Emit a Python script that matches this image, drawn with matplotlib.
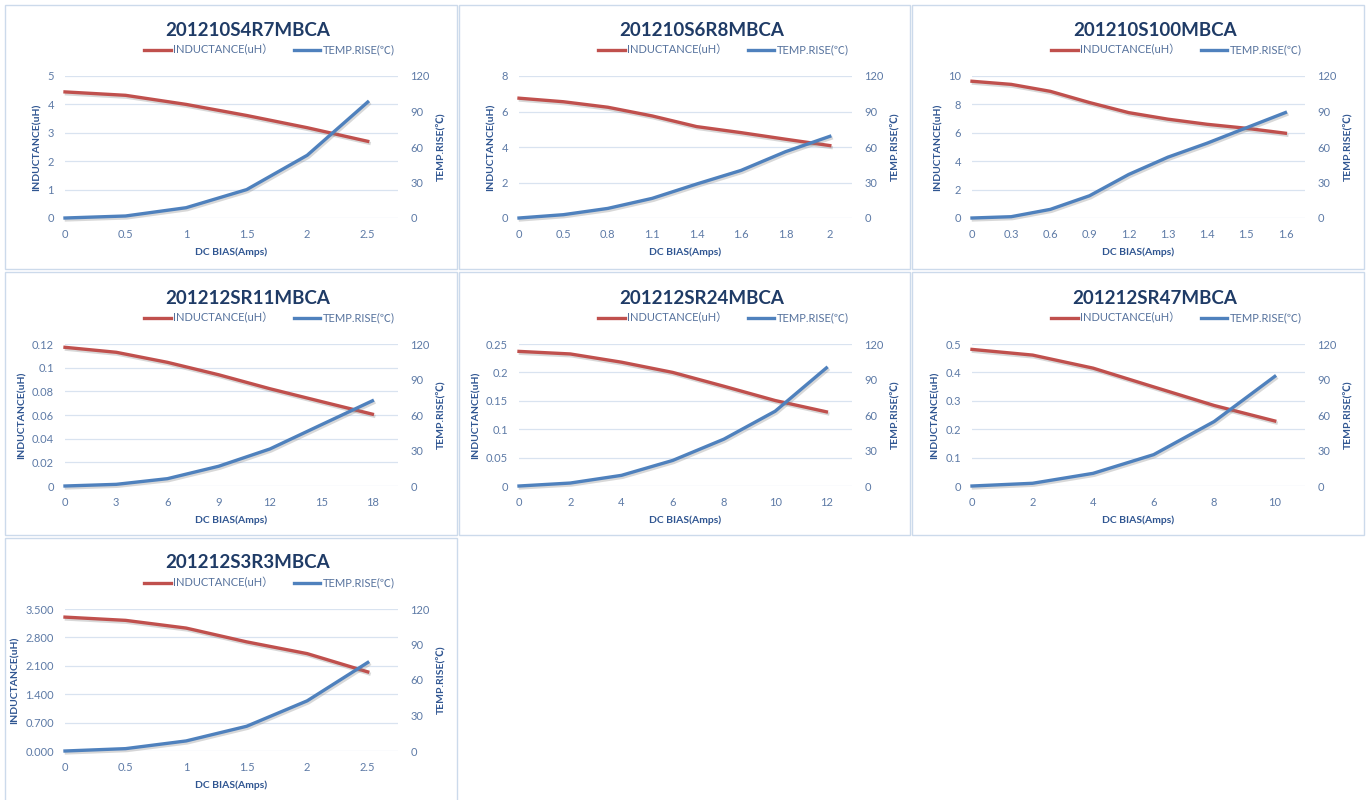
import matplotlib
matplotlib.use('Agg')
import matplotlib.pyplot as plt
import matplotlib.patheffects as pe
from matplotlib.patches import Rectangle
from matplotlib.lines import Line2D
import numpy as np

plt.rcParams['font.family'] = ['Lato', 'Noto Sans CJK SC', 'DejaVu Sans']

# --- data ---
titles = ['201210S4R7MBCA', '201210S6R8MBCA', '201210S100MBCA',
          '201212SR11MBCA', '201212SR24MBCA', '201212SR47MBCA',
          '201212S3R3MBCA']

x_s4r7 = ['0', '0.5', '1', '1.5', '2', '2.5']
ind_s4r7 = [4.44, 4.32, 4.0, 3.61, 3.18, 2.70]
temp_s4r7 = [0, 1.7, 8.7, 24, 53, 98]
yl_s4r7 = ['0', '1', '2', '3', '4', '5']

x_s6r8 = ['0', '0.5', '0.8', '1.1', '1.4', '1.6', '1.8', '2']
ind_s6r8 = [6.75, 6.55, 6.24, 5.75, 5.15, 4.81, 4.44, 4.08]
temp_s6r8 = [0, 2.8, 8.1, 16.6, 28.7, 40.2, 56, 69]
yl_s6r8 = ['0', '2', '4', '6', '8']

x_s100 = ['0', '0.3', '0.6', '0.9', '1.2', '1.3', '1.4', '1.5', '1.6']
ind_s100 = [9.63, 9.41, 8.92, 8.13, 7.42, 6.96, 6.6, 6.32, 5.97]
temp_s100 = [0, 1.1, 7.3, 18.8, 36.8, 51.4, 63.2, 76.2, 89.1]
yl_s100 = ['0', '2', '4', '6', '8', '10']

x_sr11 = ['0', '3', '6', '9', '12', '15', '18']
ind_sr11 = [0.1172, 0.113, 0.1045, 0.094, 0.0822, 0.0714, 0.0607]
temp_sr11 = [0, 1.4, 6.2, 16.7, 31.3, 51.7, 72]
yl_sr11 = ['0', '0.02', '0.04', '0.06', '0.08', '0.1', '0.12']

x_sr24 = ['0', '2', '4', '6', '8', '10', '12']
ind_sr24 = [0.237, 0.2325, 0.218, 0.200, 0.1756, 0.1505, 0.1306]
temp_sr24 = [0, 2.5, 9, 21.6, 39.6, 63.2, 99.8]
yl_sr24 = ['0', '0.05', '0.1', '0.15', '0.2', '0.25']

x_sr47 = ['0', '2', '4', '6', '8', '10']
ind_sr47 = [0.481, 0.461, 0.415, 0.349, 0.2835, 0.229]
temp_sr47 = [0, 2.3, 10.7, 26.5, 54.5, 92.6]
yl_sr47 = ['0', '0.1', '0.2', '0.3', '0.4', '0.5']

x_s3r3 = ['0', '0.5', '1', '1.5', '2', '2.5']
ind_s3r3 = [3.30, 3.22, 3.03, 2.69, 2.40, 1.95]
temp_s3r3 = [0, 2, 8.5, 20.9, 42.4, 74.8]
yl_s3r3 = ['0.000', '0.700', '1.400', '2.100', '2.800', '3.500']

temp_ticks = [0, 30, 60, 90, 120]

panels = [
    (x_s4r7, ind_s4r7, temp_s4r7, yl_s4r7),
    (x_s6r8, ind_s6r8, temp_s6r8, yl_s6r8),
    (x_s100, ind_s100, temp_s100, yl_s100),
    (x_sr11, ind_sr11, temp_sr11, yl_sr11),
    (x_sr24, ind_sr24, temp_sr24, yl_sr24),
    (x_sr47, ind_sr47, temp_sr47, yl_sr47),
    (x_s3r3, ind_s3r3, temp_s3r3, yl_s3r3),
]

# --- styling ---
W, H = 1369, 800
red = '#c0504d'
blue = '#4f81bd'
grid_c = '#d9e3f0'
tick_c = '#5d7aa6'
lab_c = '#2f5591'
title_c = '#1f3b66'
leg_c = '#56729d'
border_c = '#ccdaeb'

plot_left = [65, 519, 972]
plot_top = [76, 344, 609]
pw, ph = 333, 142

borders = [(5, 5, 452, 264), (459, 5, 451, 264), (912, 5, 452, 264),
           (5, 272, 452, 263), (459, 272, 451, 263), (912, 272, 452, 263),
           (5, 538, 452, 280)]

shadow = [pe.SimpleLineShadow(offset=(1.0, -1.4), shadow_color='#808080', alpha=0.3),
          pe.Normal()]

fig = plt.figure(figsize=(W / 100, H / 100), dpi=100)

for bx, by, bw, bh in borders:
    fig.patches.append(Rectangle((bx / W, 1 - (by + bh) / H), bw / W, bh / H,
                                 transform=fig.transFigure, fill=False,
                                 edgecolor=border_c, lw=1.0))

for i, (xc, ind, temp, yl) in enumerate(panels):
    col, row = i % 3, i // 3
    left = plot_left[col]
    top = plot_top[row]
    ax = fig.add_axes([left / W, 1 - (top + ph) / H, pw / W, ph / H])
    n = len(xc)
    pos = np.arange(n)

    ax.plot(pos, ind, color=red, lw=2.4, path_effects=shadow, clip_on=False)
    yt = [float(s) for s in yl]
    ax.set_ylim(0, yt[-1])
    ax.set_yticks(yt)
    ax.set_yticklabels(yl)
    ax.set_xlim(0, n - 0.5)
    ax.set_xticks(pos)
    ax.set_xticklabels(xc)
    ax.grid(axis='y', color=grid_c, lw=0.9)
    ax.set_axisbelow(True)
    for s in ax.spines.values():
        s.set_visible(False)
    ax.tick_params(length=0, labelsize=8, colors=tick_c)
    ax.tick_params(axis='y', pad=8)
    ax.tick_params(axis='x', pad=8)
    ax.set_ylabel('INDUCTANCE(uH)', fontsize=7.5, fontweight='bold', color=lab_c, labelpad=4)
    ax.set_xlabel('DC BIAS(Amps)', fontsize=7.5, fontweight='bold', color=lab_c, labelpad=5)

    ax2 = ax.twinx()
    ax2.plot(pos, temp, color=blue, lw=2.4, path_effects=shadow, clip_on=False)
    ax2.set_ylim(0, 120)
    ax2.set_yticks(temp_ticks)
    for s in ax2.spines.values():
        s.set_visible(False)
    ax2.tick_params(length=0, labelsize=8, colors=tick_c, pad=9)
    ax2.set_ylabel('TEMP.RISE(℃)', fontsize=7.5, fontweight='bold', color=lab_c, labelpad=4)

    ax.text((248 - 65) / pw, 1 + 46 / ph, titles[i],
            transform=ax.transAxes, ha='center', va='center',
            fontsize=13.5, fontweight='bold', color=title_c)

    handles = [Line2D([], [], color=red, lw=2.4), Line2D([], [], color=blue, lw=2.4)]
    leg = ax.legend(handles, ['INDUCTANCE(uH）', 'TEMP.RISE(℃)'], ncol=2,
                    loc='center', bbox_to_anchor=(0.614, 1.183), frameon=False,
                    fontsize=8, handlelength=2.4, handletextpad=0.2,
                    columnspacing=1.8, borderaxespad=0)
    for t in leg.get_texts():
        t.set_color(leg_c)

fig.savefig('out.png', dpi=100)
